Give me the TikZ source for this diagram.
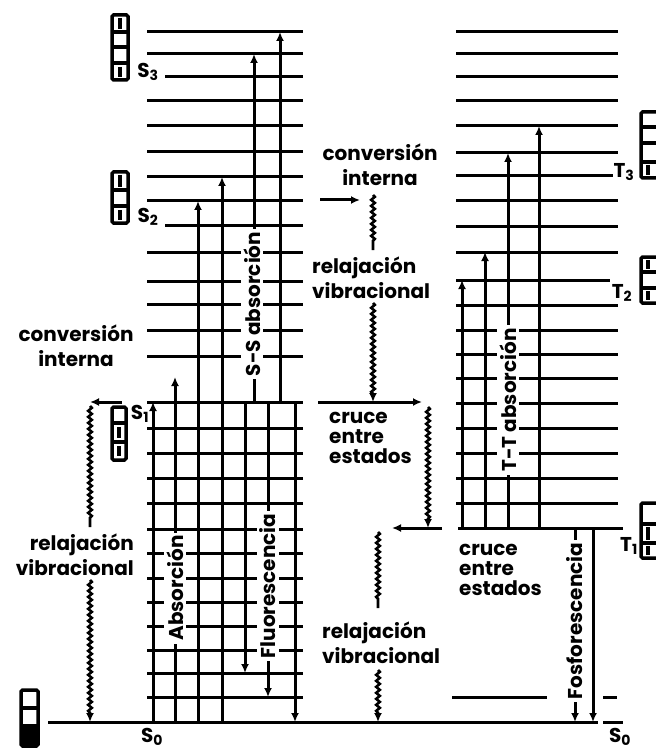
\documentclass[tikz,border=0pt]{standalone}
\usepackage{fontspec}
\setmainfont{Poppins}
\usetikzlibrary{arrows.meta, decorations.pathmorphing, positioning}

\tikzset{
  level/.style={line width=3pt},
  trans/.style={line width=3pt, -{Latex[length=9pt,width=8pt]}},
  relax/.style={line width=2.6pt, decorate,
    decoration={snake, amplitude=1.8pt, segment length=6pt, post length=8pt}},
  relaxarr/.style={relax, -{Latex[length=9pt,width=8pt]}},
  txt/.style={font=\fontsize{20}{25}\selectfont\bfseries, inner sep=0pt},
  txttight/.style={font=\fontsize{20}{20}\selectfont\bfseries, inner sep=0pt},
  vtxt/.style={txt, rotate=90, fill=white, inner sep=3pt},
  spin/.style={line width=3.5pt, rounded corners=1.5pt},
  elec/.style={line width=4pt},
}

\begin{document}
\begin{tikzpicture}[x=1pt,y=-1pt]
\useasboundingbox (0,0) rectangle (655,751);

% singlet levels
\foreach \y in {32,54,101,126,152,177,201,252,281,304,330,356,402,
                428,453,478,503,529,553,578,602,626,650,673,697}
  \draw[level] (147,\y) -- (303,\y);
\foreach \y in {77,225}
  \draw[level] (165,\y) -- (303,\y);
\draw[level] (48,722) -- (598,722);
\draw[level] (603,722) -- (623,722);

% triplet levels
\foreach \y in {32,54,77,101,126,153,201,226,252,305,330,354,378,403,428,453,478,503}
  \draw[level] (456,\y) -- (618,\y);
\draw[level] (456,176) -- (613,176);
\draw[level] (456,280) -- (610,280);
\draw[level] (458,528) -- (623,528);
\draw[level] (452,697) -- (547,697);
\draw[level] (603,697) -- (617,697);

% singlet transitions
\draw[trans] (153,722) -- (153,402);
\draw[trans] (175,722) -- (175,377);
\draw[trans] (198,722) -- (198,201);
\draw[trans] (222,722) -- (222,177);
\draw[trans] (245,402) -- (245,673);
\draw[trans] (268,402) -- (268,697);
\draw[trans] (295,402) -- (295,722);
\draw[trans] (254,402) -- (254,54);
\draw[trans] (280,402) -- (280,32);

% triplet transitions
\draw[trans] (462,528) -- (462,280);
\draw[trans] (485,528) -- (485,252);
\draw[trans] (508,528) -- (508,153);
\draw[trans] (539,528) -- (539,126);
\draw[trans] (575,528) -- (575,722);
\draw[trans] (593,528) -- (593,722);

% radiationless steps
\draw[trans] (122,402) -- (90,402);
\draw[relax] (90,406) -- (90,527);
\draw[relaxarr] (90,580) -- (90,722);
\draw[trans] (320,200) -- (360,200);
\draw[relax] (373,195) -- (373,250);
\draw[relaxarr] (373,303) -- (373,402);
\draw[trans] (318,402) -- (422,402);
\draw[relaxarr] (428,407) -- (428,528);
\draw[trans] (442,528) -- (392,528);
\draw[relax] (378,532) -- (378,608);
\draw[relaxarr] (378,670) -- (378,722);

% labels on the arrows
\node[vtxt] (abs) at (175,588) {Absorción};
\node[vtxt] (flu) at (268,586) {Fluorescencia};
\node[vtxt] (ssabs) at (252,304) {S-S absorción};
\node[vtxt] (ttabs) at (508,400) {T-T absorción};
\node[vtxt] (fos) at (575,621) {Fosforescencia};

% process names
\node[txt, align=center] (ciL) at (76,346) {conversión\\interna};
\node[txt, align=right, anchor=east] (rvL) at (134,555) {relajación\\vibracional};
\node[txt, align=center] (ciM) at (380,165) {conversión\\interna};
\node[txt, align=left, anchor=west] (rvM) at (312,278) {relajación\\vibracional};
\node[txttight, align=left, anchor=west] (ceM) at (329,438) {cruce\\entre\\estados};
\node[txttight, align=left, anchor=west] (ceR) at (459,570) {cruce\\entre\\estados};
\node[txt, align=left, anchor=west] (rvB) at (322,643) {relajación\\vibracional};

% state names
\node[txt] (lS3) at (148,72) {S\textsubscript{3}};
\node[txt] (lS2) at (148,217) {S\textsubscript{2}};
\node[txt] (lS1) at (140,414) {S\textsubscript{1}};
\node[txt] (lS0) at (152,737) {S\textsubscript{0}};
\node[txt] (rS0) at (620,737) {S\textsubscript{0}};
\node[txt] (lT3) at (624,172) {T\textsubscript{3}};
\node[txt] (lT2) at (622,293) {T\textsubscript{2}};
\node[txt] (lT1) at (629,546) {T\textsubscript{1}};

% spin boxes
\draw[spin] (112,15) rectangle (128,80);
\foreach \y in {32,47,63} \draw[spin] (112,\y) -- (128,\y);
\draw[elec] (120,18) -- (120,29);
\draw[elec] (120,67) -- (120,77);

\draw[spin] (112,172) rectangle (128,223);
\foreach \y in {190,206} \draw[spin] (112,\y) -- (128,\y);
\draw[elec] (120,175) -- (120,187);
\draw[elec] (120,210) -- (120,220);

\draw[spin] (112,407) rectangle (126,460);
\foreach \y in {423,442} \draw[spin] (112,\y) -- (126,\y);
\draw[elec] (119,427) -- (119,438);
\draw[elec] (119,446) -- (119,456);

\draw[spin] (21,690) rectangle (38,746);
\foreach \y in {708,726} \draw[spin] (21,\y) -- (38,\y);
\fill (21,726) rectangle (38,746);

\draw[spin] (641,112) rectangle (662,178);
\foreach \y in {127,143,162} \draw[spin] (641,\y) -- (662,\y);
\draw[elec] (648,165) -- (648,175);

\draw[spin] (641,257) rectangle (662,303);
\foreach \y in {272,288} \draw[spin] (641,\y) -- (662,\y);
\draw[elec] (648,260) -- (648,269);
\draw[elec] (648,291) -- (648,300);

\draw[spin] (641,503) rectangle (662,558);
\foreach \y in {524,543} \draw[spin] (641,\y) -- (662,\y);
\draw[elec] (648,527) -- (648,540);
\draw[elec] (648,546) -- (648,555);
\end{tikzpicture}
\end{document}
